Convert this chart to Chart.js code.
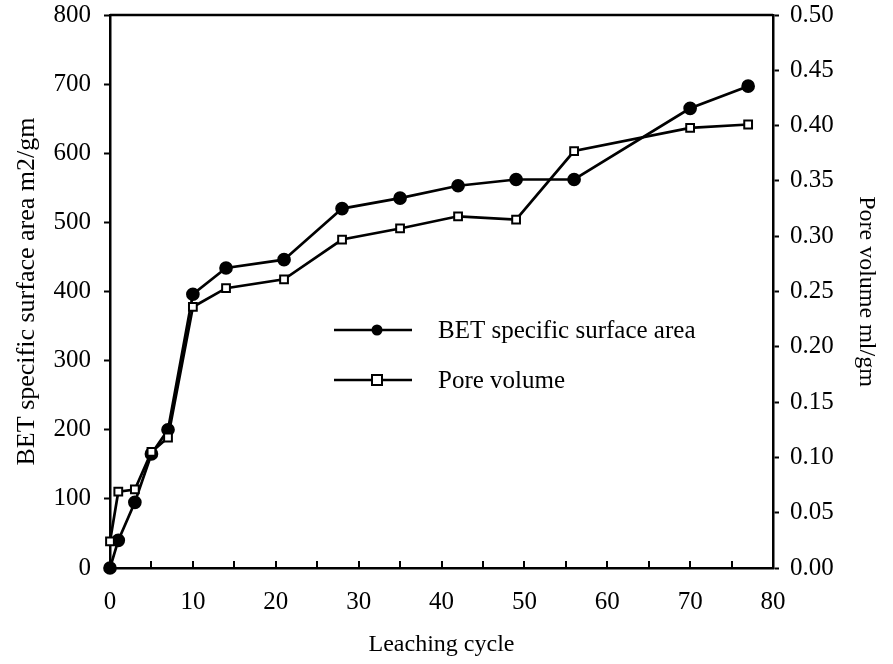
<!DOCTYPE html>
<html>
<head>
<meta charset="utf-8">
<script src="https://cdn.jsdelivr.net/npm/chart.js@4/dist/chart.umd.min.js"></script>
<style>
  body { margin: 0; background: #fff; }
</style>
</head>
<body>
<canvas id="myChart" width="893" height="664"></canvas>
<script>
// leaching cycle vs BET area (left axis) and pore volume (right axis)
const cycles = [0, 1, 3, 5, 7, 10, 14, 21, 28, 35, 42, 49, 56, 70, 77];
const surfaceArea = [0, 40, 95, 165, 200, 396, 434, 446, 520, 535, 553, 562, 562, 665, 697];
const poreVolume = [0.024, 0.069, 0.071, 0.105, 0.118, 0.236, 0.253, 0.261, 0.297, 0.307, 0.318, 0.315, 0.377, 0.398, 0.401];

const legendLabels = ['BET specific surface area', 'Pore volume'];
const xTitle = 'Leaching cycle';
const yTitle = 'BET specific surface area m2/gm';
const y1Title = 'Pore volume ml/gm';

const FONT = 'Liberation Serif';
const tickFont = { family: FONT, size: 25 };

function toPoints(ys) {
  return cycles.map((c, i) => ({ x: c, y: ys[i] }));
}

// top frame line, inward x ticks and the legend inside the plot
const extrasPlugin = {
  id: 'extras',
  afterDraw(chart) {
    const ctx = chart.ctx;
    const a = chart.chartArea;
    const xs = chart.scales.x;
    ctx.save();
    ctx.strokeStyle = '#000';
    ctx.lineWidth = 2.5;
    ctx.beginPath();
    ctx.moveTo(a.left, a.top);
    ctx.lineTo(a.right, a.top);
    ctx.stroke();

    ctx.lineWidth = 2;
    for (let v = 5; v < 80; v += 5) {
      const px = Math.round(xs.getPixelForValue(v));
      ctx.beginPath();
      ctx.moveTo(px, a.bottom);
      ctx.lineTo(px, a.bottom - 7);
      ctx.stroke();
    }

    const x0 = a.left + 224, x1 = a.left + 302, mx = a.left + 267;
    const rows = [a.top + 315, a.top + 365];
    ctx.font = '25px ' + FONT;
    ctx.textBaseline = 'middle';
    rows.forEach((y, i) => {
      ctx.lineWidth = 2.7;
      ctx.beginPath();
      ctx.moveTo(x0, y);
      ctx.lineTo(x1, y);
      ctx.stroke();
      if (i == 0) {
        ctx.beginPath();
        ctx.arc(mx, y, 5.5, 0, Math.PI * 2);
        ctx.fillStyle = '#000';
        ctx.fill();
      } else {
        ctx.fillStyle = '#fff';
        ctx.fillRect(mx - 5, y - 5, 10, 10);
        ctx.lineWidth = 2;
        ctx.strokeRect(mx - 5, y - 5, 10, 10);
      }
      ctx.fillStyle = '#000';
      ctx.fillText(legendLabels[i], a.left + 328, y + 1);
    });
    ctx.restore();
  }
};

const data = {
  datasets: [
    {
      label: legendLabels[1],
      data: toPoints(poreVolume),
      yAxisID: 'y1',
      borderColor: '#000',
      borderWidth: 2.7,
      pointStyle: 'rect',
      pointRadius: 5.5,
      pointBorderWidth: 2,
      pointBackgroundColor: '#fff',
      pointBorderColor: '#000',
      order: 0
    },
    {
      label: legendLabels[0],
      data: toPoints(surfaceArea),
      yAxisID: 'y',
      borderColor: '#000',
      borderWidth: 2.7,
      pointStyle: 'circle',
      pointRadius: 5.5,
      pointBackgroundColor: '#000',
      pointBorderColor: '#000',
      order: 1
    }
  ]
};

// fixed box sizes so the plot area lands where the original has it
function fixY(width) {
  return s => {
    s.width = width;
    s.paddingTop = 0;
    s.paddingBottom = 0;
  };
}

const config = {
  type: 'line',
  data: data,
  options: {
    responsive: false,
    animation: false,
    devicePixelRatio: 1,
    clip: false,
    elements: { line: { tension: 0 } },
    layout: { padding: { top: 15, left: 0, right: 0, bottom: 0 } },
    plugins: {
      legend: { display: false },
      tooltip: { enabled: false }
    },
    scales: {
      x: {
        type: 'linear',
        min: 0,
        max: 80,
        ticks: {
          stepSize: 10,
          color: '#000',
          font: tickFont,
          padding: 19,
          maxRotation: 0
        },
        grid: { drawOnChartArea: false, drawTicks: false },
        border: { color: '#000', width: 2.5 },
        title: { display: true, text: xTitle, color: '#000', font: { family: FONT, size: 24 }, padding: { top: 4, bottom: 5 } },
        afterFit: s => { s.height = 96; }
      },
      y: {
        position: 'left',
        min: 0,
        max: 800,
        ticks: {
          stepSize: 50,
          color: '#000',
          font: tickFont,
          padding: 13,
          callback: v => (v % 100 == 0 ? v : null)
        },
        grid: { drawOnChartArea: false, tickLength: 6, tickColor: '#000', tickWidth: 2 },
        border: { color: '#000', width: 2.5 },
        title: { display: true, text: yTitle, color: '#000', font: { family: FONT, size: 26 }, padding: { top: 12, bottom: 0 } },
        afterFit: fixY(110)
      },
      y1: {
        position: 'right',
        min: 0,
        max: 0.5,
        ticks: {
          stepSize: 0.025,
          color: '#000',
          font: tickFont,
          padding: 11,
          callback: v => {
            const r = Math.round(v * 1000);
            return r % 50 == 0 ? (r / 1000).toFixed(2) : null;
          }
        },
        grid: { drawOnChartArea: false, tickLength: 6, tickColor: '#000', tickWidth: 2 },
        border: { color: '#000', width: 2.5 },
        title: { display: true, text: y1Title, color: '#000', font: { family: FONT, size: 24 }, padding: { top: 12, bottom: 0 } },
        afterFit: fixY(120)
      }
    }
  },
  plugins: [extrasPlugin]
};

const myChart = new Chart(document.getElementById('myChart'), config);
</script>
</body>
</html>
